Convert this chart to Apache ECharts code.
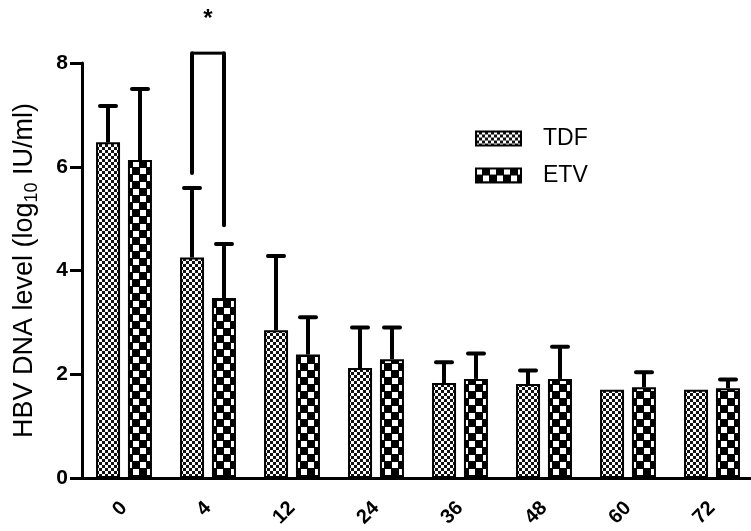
<!DOCTYPE html>
<html><head><meta charset="utf-8">
<script src="https://cdn.jsdelivr.net/npm/echarts@6/dist/echarts.min.js"></script>
<style>html,body{margin:0;padding:0;background:#fff}#c{width:751px;height:531px}</style>
</head><body><div id="c"></div>
<script>
const categories = ['0','4','12','24','36','48','60','72'];
const tdfMean  = [6.47, 4.25, 2.85, 2.12, 1.83, 1.81, 1.70, 1.70];
const tdfUpper = [7.17, 5.59, 4.28, 2.90, 2.23, 2.07, null, null];
const etvMean  = [6.13, 3.47, 2.38, 2.29, 1.91, 1.91, 1.75, 1.73];
const etvUpper = [7.50, 4.51, 3.10, 2.90, 2.40, 2.53, 2.04, 1.90];
const seriesNames = ['TDF', 'ETV'];
const sigBracket = [[1, 8.19, 5.88, 4.87, 8.85]]; // category, top, left bottom, right bottom, star
const FONT = '"Liberation Sans", Arial, sans-serif';

function makePattern(kind){
  const c = document.createElement('canvas');
  const ctx = c.getContext('2d');
  if(kind === 'fine'){
    c.width = 6; c.height = 6;
    ctx.fillStyle = '#111'; ctx.fillRect(0,0,6,6);
    ctx.fillStyle = '#fff'; ctx.fillRect(0,0,3,3); ctx.fillRect(3,3,3,3);
  } else {
    c.width = 14; c.height = 14;
    ctx.fillStyle = '#000'; ctx.fillRect(0,0,14,14);
    ctx.fillStyle = '#fff';
    ctx.fillRect(0,0,6,6); ctx.fillRect(7,7,6,6);
  }
  return {image: c, repeat: 'repeat'};
}
const patterns = [makePattern('fine'), makePattern('check')];

const BAR_W = 24, HALF_SEP = 16;

function errRender(offset){
  return function(params, api){
    const up = api.value(1);
    if(up === null || isNaN(up)) return;
    const top = api.coord([api.value(0), up]);
    const base = api.coord([api.value(0), api.value(2)]);
    const x = top[0] + offset;
    return {type:'group', children:[
      {type:'line', shape:{x1:x, y1:base[1], x2:x, y2:top[1]}, style:{stroke:'#000', lineWidth:4}},
      {type:'line', shape:{x1:x-8, y1:top[1], x2:x+8, y2:top[1]}, style:{stroke:'#000', lineWidth:4, lineCap:'round'}}
    ]};
  };
}

const chart = echarts.init(document.getElementById('c'), null, {renderer:'canvas'});
chart.setOption({
  animation:false,
  backgroundColor:'#fff',
  grid:{left:82, top:63, bottom:53, right:-3, containLabel:false, outerBoundsMode:'none'},
  legend:{
    left:470, top:122, orient:'vertical', itemWidth:45, itemHeight:14, itemGap:14,
    icon:'rect',
    textStyle:{fontFamily:FONT, fontSize:23, color:'#000', padding:[0,0,0,17]},
    data:seriesNames
  },
  xAxis:{
    type:'category', data:categories,
    axisLine:{lineStyle:{color:'#000', width:3}},
    axisTick:{alignWithLabel:true, length:10, lineStyle:{color:'#000', width:3}},
    axisLabel:{rotate:45, margin:27, fontFamily:FONT, fontSize:20, fontWeight:'bold', color:'#000'}
  },
  yAxis:{
    type:'value', min:0, max:8, interval:2,
    splitLine:{show:false},
    axisLine:{show:true, lineStyle:{color:'#000', width:3}},
    axisTick:{show:true, length:12, lineStyle:{color:'#000', width:3}},
    axisLabel:{margin:14, fontFamily:FONT, fontSize:21, fontWeight:'bold', color:'#000'},
    name:'{a|HBV DNA level (log}{s|10}{a| IU/ml)}',
    nameLocation:'middle', nameGap:41, nameRotate:90,
    nameTextStyle:{rich:{
      a:{fontFamily:FONT, fontSize:27, color:'#000'},
      s:{fontFamily:FONT, fontSize:18, color:'#000', padding:[14,0,0,0]}
    }}
  },
  series:[
    {name:'TDF', type:'bar', data:tdfMean, barWidth:BAR_W, barGap:'33%',
     itemStyle:{color:patterns[0], borderColor:'#000', borderWidth:2}, z:2},
    {name:'ETV', type:'bar', data:etvMean, barWidth:BAR_W, barGap:'33%',
     itemStyle:{color:patterns[1], borderColor:'#000', borderWidth:2}, z:2},
    {name:'TDF err', type:'custom', z:1, renderItem:errRender(-HALF_SEP),
     data:categories.map((c,i)=>[i, tdfUpper[i], tdfMean[i]])},
    {name:'ETV err', type:'custom', z:1, renderItem:errRender(HALF_SEP),
     data:categories.map((c,i)=>[i, etvUpper[i], etvMean[i]])},
    {name:'sig', type:'custom', z:3, clip:false,
     renderItem:function(params, api){
       const i = api.value(0);
       const top = api.coord([i, api.value(1)]);
       const lb = api.coord([i, api.value(2)]);
       const rb = api.coord([i, api.value(3)]);
       const st = api.coord([i, api.value(4)]);
       const xl = top[0]-HALF_SEP, xr = top[0]+HALF_SEP;
       return {type:'group', children:[
         {type:'line', shape:{x1:xl, y1:top[1], x2:xr, y2:top[1]}, style:{stroke:'#000', lineWidth:3}},
         {type:'line', shape:{x1:xl, y1:top[1], x2:xl, y2:lb[1]}, style:{stroke:'#000', lineWidth:4, lineCap:'round'}},
         {type:'line', shape:{x1:xr, y1:top[1], x2:xr, y2:rb[1]}, style:{stroke:'#000', lineWidth:4, lineCap:'round'}},
         {type:'text', x:st[0], y:st[1], style:{text:'*', fontFamily:FONT, fontSize:24, fontWeight:'bold', fill:'#000', align:'center', verticalAlign:'middle'}}
       ]};
     },
     data:sigBracket}
  ]
});
</script></body></html>
